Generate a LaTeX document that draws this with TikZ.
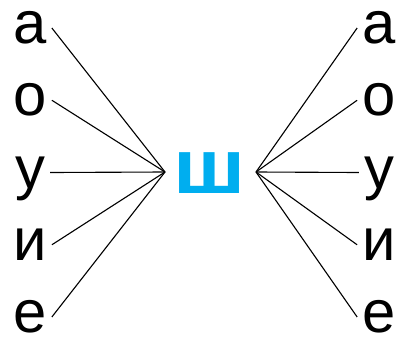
\documentclass[tikz,border=0pt]{standalone}
\usepackage{fontspec}
\setmainfont{Liberation Sans}
\definecolor{shblue}{HTML}{00AEEF}
\begin{document}
\begin{tikzpicture}[x=0.03cm, y=-0.03cm,
  letter/.style={font=\fontsize{51}{51}\selectfont, inner xsep=0.15cm, inner ysep=0pt, text height=26.6pt, text depth=0pt},
  link/.style={line width=0.95pt}]
\useasboundingbox (0,0) rectangle (403,338);
\node[font=\bfseries\fontsize{66}{66}\selectfont, text=shblue, inner sep=0pt, xscale=1.12] (sh) at (210,173) {ш};
\coordinate (hl) at (165,172);
\coordinate (hr) at (256,172);
\foreach \v [count=\i] in {а,о,у,и,е} {
  \node[letter] (l\i) at (30,{28+72.25*(\i-1)}) {\v};
  \node[letter] (r\i) at (379,{28+72.25*(\i-1)}) {\v};
  \draw[link] (l\i.east) -- (hl);
  \draw[link] (hr) -- (r\i.west);
}
\end{tikzpicture}
\end{document}
